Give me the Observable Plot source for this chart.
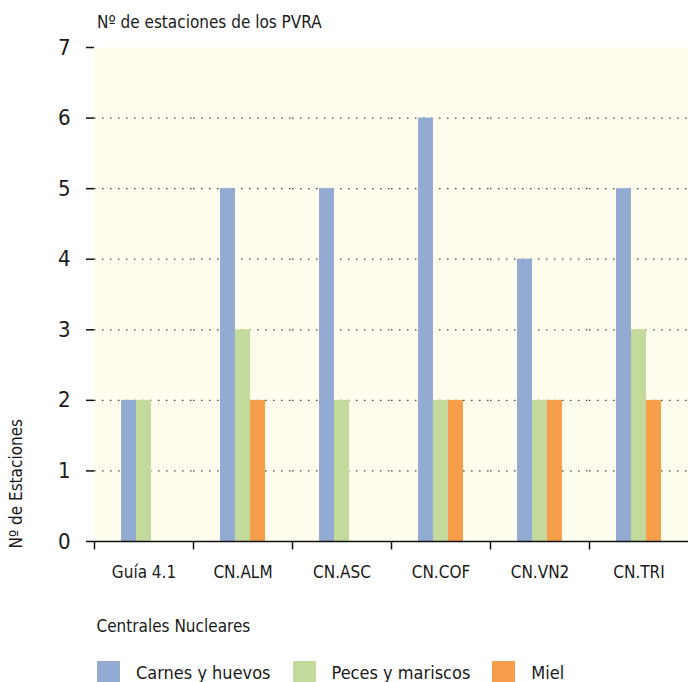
<!DOCTYPE html>
<html><head><meta charset="utf-8">
<script src="https://cdn.jsdelivr.net/npm/d3@7"></script>
<script src="https://cdn.jsdelivr.net/npm/@observablehq/plot@0.6"></script>
<style>
body{margin:0;background:#fff;font-family:"Liberation Sans Narrow","DejaVu Sans Condensed","Roboto Condensed",Roboto,sans-serif;color:#1a1a1a;}
#title{position:absolute;left:97px;top:12px;font-size:17px;z-index:2;}
#chart{position:absolute;left:0;top:30px;}
#legend{position:absolute;left:97px;top:656px;}
.lg-swatches{font-size:18px !important;font-family:inherit !important;}
.lg-swatch{margin-right:22px !important;}
.lg-swatch > svg{margin-right:16px !important;}
</style></head><body>
<div id="title"></div><div id="chart"></div><div id="legend"></div>
<script>
const categories = ["Guía 4.1","CN.ALM","CN.ASC","CN.COF","CN.VN2","CN.TRI"];
const seriesNames = ["Carnes y huevos","Peces y mariscos","Miel"];
const carnes = [2,5,5,6,4,5];
const peces = [2,3,2,2,2,3];
const miel = [null,2,null,2,2,2];
const seriesColors = ["#93aad3","#c4d99c","#f79e4b"];
const yTicks = [0,1,2,3,4,5,6,7];
const gridTicks = [1,2,3,4,5,6];
const titleText = "Nº de estaciones de los PVRA";
const yLabel = "Nº de Estaciones";
const xLabel = "Centrales Nucleares";

const rows = [];
categories.forEach((c,i)=>{
  [carnes,peces,miel].forEach((arr,j)=>{
    if(arr[i]!=null) rows.push({cat:c, serie:seriesNames[j], value:arr[i]});
  });
});

const tickSymbol = {draw(ctx){ ctx.moveTo(0,0); ctx.lineTo(0,8); }};
const font = '"Liberation Sans Narrow","DejaVu Sans Condensed","Roboto Condensed",Roboto,sans-serif';

document.getElementById("title").textContent = titleText;

const plot = Plot.plot({
  width: 688,
  height: 620,
  marginLeft: 93,
  marginRight: 0,
  marginTop: 17,
  marginBottom: 109,
  style: {fontFamily: font, background: "transparent", color: "#1a1a1a"},
  fx: {domain: categories, padding: 0, axis: null},
  x: {domain: seriesNames, paddingInner: 0, paddingOuter: 1.73, axis: null},
  y: {domain: [0,7], axis: null},
  color: {domain: seriesNames, range: seriesColors},
  marks: [
    Plot.frame({fill: "#fffdee", stroke: null, insetRight: -0.5}),
    Plot.gridY(gridTicks, {stroke: "#333", strokeOpacity: 0.9, strokeDasharray: "1.5,6.5", strokeWidth: 1.3}),
    Plot.barY(rows, {fx: "cat", x: "serie", y: "value", fill: "serie"}),
    Plot.ruleY([0], {stroke: "#111", strokeWidth: 1.5}),
    Plot.axisY({ticks: yTicks, tickFormat: d3.format("d"), tickSize: 8, tickPadding: 16, fontSize: 22, label: null, line: true, stroke: "#111", strokeWidth: 1.5}),
    Plot.text([yLabel], {fx: () => categories[0], text: d => d, frameAnchor: "bottom-left", rotate: -90, textAnchor: "start", dx: -73, dy: 7, fontSize: 17}),
    Plot.dot(categories, {fx: d => d, frameAnchor: "bottom-left", symbol: tickSymbol, stroke: "#111", fill: "none", strokeWidth: 1.5}),
    Plot.axisFx({anchor: "bottom", tickSize: 0, tickPadding: 24, fontSize: 17, label: null}),
    Plot.text([xLabel], {fx: () => categories[0], text: d => d, frameAnchor: "bottom-left", textAnchor: "start", dx: 2, dy: 90, fontSize: 17})
  ]
});
document.getElementById("chart").appendChild(plot);
const leg = plot.legend("color", {className: "lg", swatchSize: 23});
document.getElementById("legend").appendChild(leg);
</script>
</body></html>
